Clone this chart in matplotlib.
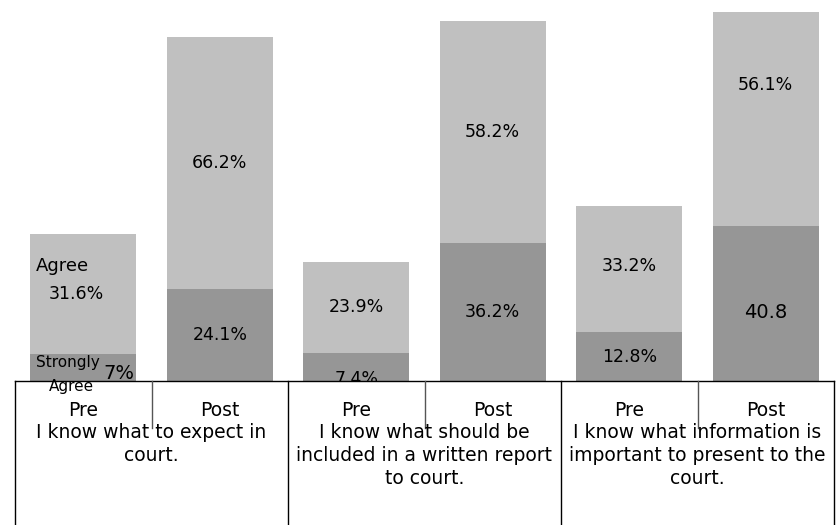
import matplotlib.pyplot as plt
import numpy as np

plt.rcParams['font.family'] = ['DejaVu Sans']

bar_labels = ['Pre', 'Post', 'Pre', 'Post', 'Pre', 'Post']
groups = ['I know what to expect in\ncourt.',
          'I know what should be\nincluded in a written report\nto court.',
          'I know what information is\nimportant to present to the\ncourt.']
strongly_agree = [7.0, 24.1, 7.4, 36.2, 12.8, 40.8]
agree = [31.6, 66.2, 23.9, 58.2, 33.2, 56.1]
sa_text = ['7%', '24.1%', '7.4%', '36.2%', '12.8%', '40.8']
ag_text = ['31.6%', '66.2%', '23.9%', '58.2%', '33.2%', '56.1%']

dark = '#969696'
light = '#c0c0c0'

W, H = 840, 525
base_px = 381

fig = plt.figure(figsize=(8.4, 5.25), dpi=100)
ax = fig.add_axes([15 / W, (H - base_px) / H, 819 / W, base_px / H])

x = np.arange(len(bar_labels))
ax.bar(x, strongly_agree, width=0.776, color=dark)
ax.bar(x, agree, width=0.776, bottom=strongly_agree, color=light)
ax.set_xlim(-0.5, 5.5)
ax.set_ylim(0, 100)
ax.axis('off')

# label nudges (points) so text sits like the original
sa_dy = [0, 0, -9, 0, 0, -7]
ag_dy = [0, 0, 0, 0, 2, 24]
for i in range(len(x)):
    if i == 0:
        continue
    fs = 14 if i == 5 else 12.5
    ax.annotate(sa_text[i], (x[i], strongly_agree[i] / 2), xytext=(0, sa_dy[i]),
                textcoords='offset points', ha='center', va='center', fontsize=fs, zorder=2)
    ax.annotate(ag_text[i], (x[i], strongly_agree[i] + agree[i] / 2), xytext=(0, ag_dy[i]),
                textcoords='offset points', ha='center', va='center', fontsize=12.5, zorder=2)

# first bar has its own series labels
ax.annotate(ag_text[0], (x[0], strongly_agree[0] + agree[0] / 2), xytext=(-5, 0),
            textcoords='offset points', ha='center', va='center', fontsize=12.5)
ax.annotate('Agree', (x[0], strongly_agree[0] + agree[0] / 2), xytext=(-34, 20),
            textcoords='offset points', ha='left', va='center', fontsize=13)
ax.annotate('Strongly', (x[0], strongly_agree[0] / 2), xytext=(-34, 4),
            textcoords='offset points', ha='left', va='center', fontsize=11, zorder=6)
ax.annotate('7%', (x[0], strongly_agree[0] / 2), xytext=(26, -4),
            textcoords='offset points', ha='center', va='center', fontsize=14, zorder=6)

# table below the bars
def fy(px):
    return (base_px - px) / base_px

tr = ax.get_xaxis_transform()
tb = ax.transAxes
ax.add_patch(plt.Rectangle((0, fy(H + 5)), 1, fy(base_px) - fy(H + 5), transform=tb,
                           facecolor='white', edgecolor='none', clip_on=False, zorder=4))
ax.plot([0, 1], [0, 0], transform=tb, color='black', lw=1, clip_on=False, zorder=5)
for xv in [-0.5, 1.5, 3.5, 5.5]:
    ax.plot([xv, xv], [0, fy(H + 5)], transform=tr, color='black', lw=1, clip_on=False, zorder=5)
for xv in [0.5, 2.5, 4.5]:
    ax.plot([xv, xv], [0, fy(428)], transform=tr, color='#555555', lw=1, clip_on=False, zorder=5)
for i, lab in enumerate(bar_labels):
    ax.text(x[i], fy(411), lab, transform=tr, ha='center', va='center', fontsize=13.5, zorder=6)
for g, lab in enumerate(groups):
    ax.text(2 * g + 0.5, fy(423), lab, transform=tr, ha='center', va='top', fontsize=13.5,
            linespacing=1.27, zorder=6)
ax.text(x[0] - 0.09, fy(387), 'Agree', transform=tr, ha='center', va='center', fontsize=11, zorder=6)

fig.savefig('out.png', dpi=100)
